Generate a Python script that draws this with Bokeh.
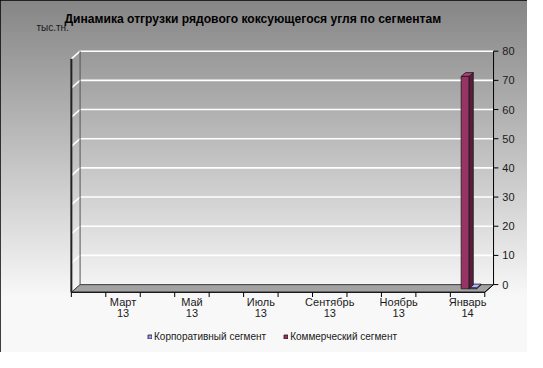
import numpy as np
from bokeh.plotting import figure
from bokeh.models import Range1d, Legend, LegendItem, ColumnDataSource
from bokeh.core.properties import value
from bokeh.embed import file_html
from bokeh.resources import INLINE

# ---------------- data ----------------
categories = ["Февраль 13", "Март 13", "Апрель 13", "Май 13", "Июнь 13", "Июль 13",
              "Август 13", "Сентябрь 13", "Октябрь 13", "Ноябрь 13", "Декабрь 13", "Январь 14"]
corporate = [0, 0, 0, 0, 0, 0, 0, 0, 0, 0, 0, 0.3]
commercial = [0, 0, 0, 0, 0, 0, 0, 0, 0, 0, 0, 72.8]
label_idx = [1, 3, 5, 7, 9, 11]
label_month = ["Март", "Май", "Июль", "Сентябрь", "Ноябрь", "Январь"]
label_year = ["13", "13", "13", "13", "13", "14"]
y_ticks = [0, 10, 20, 30, 40, 50, 60, 70, 80]
title_text = "Динамика отгрузки рядового коксующегося угля по сегментам"
unit_text = "тыс.тн."
series_names = ["Корпоративный сегмент", "Коммерческий сегмент"]

# ---------------- layout (reference pixel geometry) ----------------
FONT = value("Liberation Sans")
X_PX0, CAT_PX, Y_PX0, VAL_PX = 73.0, 35.5, 297.0, 3.05
REF_W, REF_H = 543.0, 368.0


def ux(px):
    return (px - X_PX0) / CAT_PX


def uy(py):
    return (Y_PX0 - py) / VAL_PX


DX = 9.0 / CAT_PX     # depth offset in x units
DY = 8.0 / VAL_PX     # depth offset in value units
N = len(categories)
YMAX = y_ticks[-1]
X0, X1 = ux(0), ux(REF_W)
Y0, Y1 = uy(REF_H), uy(0)

W, H = 527, 352
p = figure(width=W, height=H, x_range=Range1d(X0, X1), y_range=Range1d(Y0, Y1),
           x_axis_type=None, y_axis_type=None, min_border=0,
           toolbar_location=None, output_backend="svg")
p.outline_line_color = "black"
p.outline_line_width = 1.5
p.background_fill_color = "#c0c0c0"
p.border_fill_color = "white"

# background vertical gradient
rows = 368
py = REF_H - (np.arange(rows) + 0.5)
g = np.clip(134 + 0.37 * py, 0, 248).astype(np.uint8)
img = np.zeros((rows, 1), dtype=np.uint32)
view = img.view(dtype=np.uint8).reshape((rows, 1, 4))
view[:, 0, 0] = g
view[:, 0, 1] = g
view[:, 0, 2] = g
view[:, 0, 3] = 255
p.image_rgba(image=[img], x=X0, y=Y0, dw=X1 - X0, dh=Y1 - Y0)

# gridlines on back wall and left side wall
for t in y_ticks[1:]:
    p.line([DX, N + DX], [t, t], line_color="white", line_width=1.6)
    p.line([0, DX], [t - DY, t], line_color="white", line_width=1.6)

# back wall left edge
p.line([DX, DX], [0, YMAX], line_color="#555555", line_width=1)
# left wall front edge
p.line([0, 0], [-DY, YMAX - DY], line_color="#222222", line_width=2)

# floor
p.patch([0, N, N + DX, DX], [-DY, -DY, 0, 0], fill_color="#a2a2a2",
        line_color="#3a3a3a", line_width=1)
p.line([DX, N + DX], [0, 0], line_color="#505050", line_width=1)

# 3D bars
D1, D2 = 0.45, 0.95
BW = 0.225
offsets = [0.425, 0.2]
colors = [("#9999FF", "#5c5c99", "#b3b3ff"), ("#993366", "#5a1d3c", "#a8407a")]
series = [corporate, commercial]
front_renderers = []
ddx, ddy = (D2 - D1) * DX, (D2 - D1) * DY
for s, vals in enumerate(series):
    fl, fr, fb, ft = [], [], [], []
    sx, sy, tx, ty = [], [], [], []
    for i, v in enumerate(vals):
        if v <= 0:
            continue
        x1 = i + offsets[s] + D1 * DX
        x2 = x1 + BW
        y0 = -DY * (1 - D1)
        y1 = v - DY * (1 - D1)
        fl.append(x1); fr.append(x2); fb.append(y0); ft.append(y1)
        sx.append([x2, x2 + ddx, x2 + ddx, x2]); sy.append([y0, y0 + ddy, y1 + ddy, y1])
        tx.append([x1, x2, x2 + ddx, x1 + ddx]); ty.append([y1, y1, y1 + ddy, y1 + ddy])
    fc, sc, tc = colors[s]
    p.patches(sx, sy, fill_color=sc, line_color="#1a1a1a", line_width=0.8)
    p.patches(tx, ty, fill_color=tc, line_color="#1a1a1a", line_width=0.8)
    r = p.quad(left=fl, right=fr, bottom=fb, top=ft, fill_color=fc,
               line_color="#1a1a1a", line_width=0.8)
    front_renderers.append(r)

# x axis (front edge of floor) and ticks
p.line([0, N], [-DY, -DY], line_color="black", line_width=1.2)
p.line([N, N + DX], [-DY, 0], line_color="black", line_width=1)
tick_len = 5.0 / VAL_PX
p.segment(x0=list(range(N + 1)), y0=[-DY] * (N + 1), x1=list(range(N + 1)),
          y1=[-DY - tick_len] * (N + 1), line_color="black", line_width=1)
lx = [i + 0.5 for i in label_idx]
p.text(x=lx, y=[uy(315)] * len(lx), text=label_month, text_font=FONT,
       text_font_size=value("11px"), text_align="center", text_baseline="middle",
       text_color="#1a1a1a")
p.text(x=lx, y=[uy(327)] * len(lx), text=label_year, text_font=FONT,
       text_font_size=value("11px"), text_align="center", text_baseline="middle",
       text_color="#1a1a1a")

# right value axis
p.line([N + DX, N + DX], [0, YMAX], line_color="black", line_width=1)
ytick_len = 5.0 / CAT_PX
p.segment(x0=[N + DX] * len(y_ticks), y0=y_ticks, x1=[N + DX + ytick_len] * len(y_ticks),
          y1=y_ticks, line_color="black", line_width=1)
p.text(x=[ux(517)] * len(y_ticks), y=y_ticks, text=[str(t) for t in y_ticks],
       text_font=FONT, text_font_size=value("11px"), text_align="left",
       text_baseline="middle", text_color="#1a1a1a")

# title and unit
p.text(x=[ux(260)], y=[uy(19)], text=[title_text], text_font=FONT,
       text_font_size=value("12.1px"), text_font_style="bold", text_align="center",
       text_baseline="middle", text_color="black")
p.text(x=[ux(37)], y=[uy(28.5)], text=[unit_text], text_font=FONT,
       text_font_size=value("10px"), text_align="left", text_baseline="middle",
       text_color="#1a1a1a")

# legend
legend = Legend(items=[LegendItem(label=series_names[0], renderers=[front_renderers[0]]),
                       LegendItem(label=series_names[1], renderers=[front_renderers[1]])],
                location=(147, 10), orientation="horizontal", glyph_width=5, glyph_height=5,
                label_height=10, label_standoff=2, spacing=17, padding=0, margin=0,
                label_text_font="Liberation Sans", label_text_font_size="10px",
                label_text_color="#1a1a1a", background_fill_alpha=0, border_line_alpha=0,
                label_text_baseline="middle")
p.add_layout(legend)

open("out.html", "w").write(file_html(p, INLINE))
